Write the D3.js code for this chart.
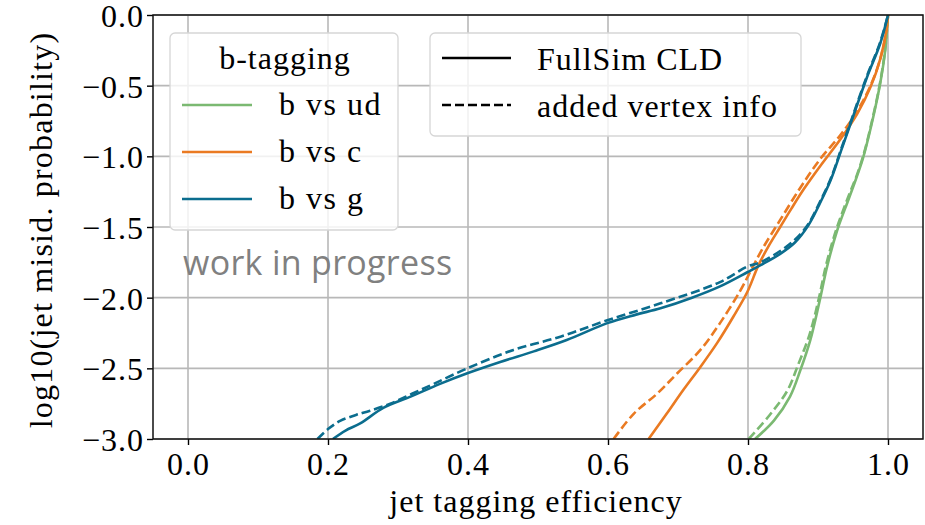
<!DOCTYPE html>
<html>
<head>
<meta charset="utf-8">
<script src="https://cdn.jsdelivr.net/npm/d3@7"></script>
<style>
  body { margin: 0; background: #fff; }
  text { font-family: "Liberation Serif", serif; }
</style>
</head>
<body>
<div id="chart"></div>
<script>
// ---- data ----
var xTicks = [0.0, 0.2, 0.4, 0.6, 0.8, 1.0];
var yTicks = [0.0, -0.5, -1.0, -1.5, -2.0, -2.5, -3.0];

// b vs ud
var udFull = [[0.810,-3.0],[0.837,-2.87],[0.860,-2.70],[0.875,-2.51],[0.889,-2.30],[0.902,-2.03],[0.913,-1.78],
  [0.927,-1.53],[0.944,-1.30],[0.955,-1.15],[0.965,-1.00],[0.979,-0.72],[0.989,-0.48],[0.996,-0.25],[1.0,0.0]];
var udVertex = [[0.801,-3.0],[0.831,-2.83],[0.856,-2.66],[0.872,-2.47],[0.888,-2.26],[0.901,-2.01],[0.912,-1.76],
  [0.926,-1.52],[0.943,-1.29],[0.955,-1.14],[0.965,-0.99],[0.979,-0.71],[0.989,-0.47],[0.996,-0.24],[1.0,0.0]];

// b vs c
var cFull = [[0.658,-3.0],[0.684,-2.82],[0.708,-2.65],[0.732,-2.49],[0.756,-2.32],[0.779,-2.135],[0.799,-1.96],
  [0.815,-1.77],[0.830,-1.63],[0.846,-1.50],[0.862,-1.37],[0.880,-1.23],[0.903,-1.07],[0.932,-0.88],[0.956,-0.70],
  [0.975,-0.51],[0.989,-0.31],[0.998,-0.10],[1.0,0.0]];
var cVertex = [[0.608,-3.0],[0.637,-2.82],[0.670,-2.68],[0.699,-2.535],[0.732,-2.37],[0.760,-2.18],[0.789,-1.95],
  [0.805,-1.80],[0.820,-1.66],[0.846,-1.45],[0.875,-1.22],[0.903,-1.02],[0.932,-0.85],[0.956,-0.68],[0.975,-0.50],
  [0.989,-0.31],[0.998,-0.10],[1.0,0.0]];

// b vs g
var gFull = [[0.207,-3.0],[0.225,-2.94],[0.246,-2.89],[0.279,-2.78],[0.318,-2.70],[0.360,-2.61],[0.399,-2.535],
  [0.446,-2.455],[0.494,-2.38],[0.541,-2.30],[0.599,-2.18],[0.640,-2.12],[0.675,-2.075],[0.720,-2.00],[0.760,-1.92],
  [0.799,-1.82],[0.818,-1.77],[0.846,-1.69],[0.867,-1.61],[0.886,-1.49],[0.902,-1.34],[0.918,-1.17],[0.933,-0.96],
  [0.950,-0.72],[0.970,-0.44],[0.989,-0.20],[1.0,0.0]];
var gVertex = [[0.185,-3.0],[0.200,-2.93],[0.218,-2.87],[0.240,-2.83],[0.260,-2.80],[0.289,-2.75],[0.320,-2.68],
  [0.351,-2.61],[0.399,-2.50],[0.465,-2.37],[0.532,-2.276],[0.599,-2.16],[0.675,-2.04],[0.760,-1.89],[0.799,-1.78],
  [0.818,-1.75],[0.846,-1.67],[0.867,-1.59],[0.886,-1.48],[0.902,-1.33],[0.918,-1.16],[0.933,-0.95],[0.950,-0.71],
  [0.970,-0.43],[0.989,-0.19],[1.0,0.0]];

var classNames = ["b vs ud", "b vs c", "b vs g"];
var classColors = ["#7bb972", "#ea7a22", "#0b6d8e"];
var styleNames = ["FullSim CLD", "added vertex info"];

var series = [
  { pts: udFull, color: 0, dashed: false }, { pts: udVertex, color: 0, dashed: true },
  { pts: cFull, color: 1, dashed: false }, { pts: cVertex, color: 1, dashed: true },
  { pts: gFull, color: 2, dashed: false }, { pts: gVertex, color: 2, dashed: true }
];

// ---- layout ----
var margin = { top: 15, bottom: 86, left: 153, right: 2 };
var width = 925 - margin.left - margin.right;
var height = 525 - margin.top - margin.bottom;

var svg = d3.select("#chart").append("svg")
  .attr("width", 925)
  .attr("height", 525);

var g = svg.append("g")
  .attr("transform", "translate(" + margin.left + "," + margin.top + ")");

var x = d3.scaleLinear().domain([-0.05, 1.05]).range([0, width]);
var y = d3.scaleLinear().domain([-3, 0]).range([height, 0]);

g.append("clipPath").attr("id", "clip")
  .append("rect").attr("width", width).attr("height", height);

// grid
g.selectAll(".vgrid").data(xTicks).enter().append("line")
  .attr("x1", function(d) { return x(d); }).attr("x2", function(d) { return x(d); })
  .attr("y1", 0).attr("y2", height)
  .attr("stroke", "#b8b8b8").attr("stroke-width", 1.6);
g.selectAll(".hgrid").data(yTicks).enter().append("line")
  .attr("y1", function(d) { return y(d); }).attr("y2", function(d) { return y(d); })
  .attr("x1", 0).attr("x2", width)
  .attr("stroke", "#b8b8b8").attr("stroke-width", 1.6);

// curves
var line = d3.line()
  .x(function(d) { return x(d[0]); })
  .y(function(d) { return y(d[1]); })
  .curve(d3.curveCatmullRom.alpha(0.5));

g.append("g").attr("clip-path", "url(#clip)")
  .selectAll("path").data(series).enter().append("path")
  .attr("d", function(d) { return line(d.pts); })
  .attr("fill", "none")
  .attr("stroke", function(d) { return classColors[d.color]; })
  .attr("stroke-width", 2.6)
  .attr("stroke-dasharray", function(d) { return d.dashed ? "9,4" : null; });

// axes
var xAxis = g.append("g")
  .attr("transform", "translate(0," + height + ")")
  .call(d3.axisBottom(x).tickValues(xTicks).tickFormat(d3.format(".1f")).tickSize(6).tickSizeOuter(0));
var yAxis = g.append("g")
  .call(d3.axisLeft(y).tickValues(yTicks).tickFormat(function(d) { return d3.format(".1f")(d).replace("-", "\u2212"); })
    .tickSize(6).tickSizeOuter(0));
[xAxis, yAxis].forEach(function(a) {
  a.select(".domain").remove();
  a.selectAll("line").attr("stroke", "#000").attr("stroke-width", 1.4);
  a.selectAll("text").attr("font-family", "Liberation Serif").attr("font-size", "32px")
    .attr("fill", "#000").attr("letter-spacing", "1px");
});
xAxis.selectAll("text").attr("dy", "0.85em").attr("y", 9);
yAxis.selectAll("text").attr("x", -9).attr("dy", "0.36em");

// frame
g.append("rect")
  .attr("width", width).attr("height", height)
  .attr("fill", "none").attr("stroke", "#111").attr("stroke-width", 1.5);

// axis labels
svg.append("text")
  .attr("x", 536).attr("y", 512)
  .attr("text-anchor", "middle").attr("font-size", "32px").attr("letter-spacing", "1px")
  .text("jet tagging efficiency");
svg.append("text")
  .attr("transform", "translate(52,230) rotate(-90)")
  .attr("text-anchor", "middle").attr("font-size", "32px").attr("letter-spacing", "1.2px")
  .text("log10(jet misid. probability)");

// legend: classes
var leg1 = svg.append("g").attr("transform", "translate(170,33)");
leg1.append("rect")
  .attr("width", 228).attr("height", 197).attr("rx", 5)
  .attr("fill", "#fff").attr("fill-opacity", 0.8)
  .attr("stroke", "#d6d6d6").attr("stroke-width", 1.3);
leg1.append("text")
  .attr("x", 115).attr("y", 36).attr("text-anchor", "middle")
  .attr("font-size", "32px").attr("letter-spacing", "1px")
  .text("b-tagging");
var leg1Rows = leg1.selectAll(".row").data(classNames).enter().append("g")
  .attr("transform", function(d, i) { return "translate(0," + (72 + i * 47) + ")"; });
leg1Rows.append("line")
  .attr("x1", 12).attr("x2", 82)
  .attr("stroke", function(d, i) { return classColors[i]; })
  .attr("stroke-width", 2.6);
leg1Rows.append("text")
  .attr("x", 109).attr("y", 10)
  .attr("font-size", "32px").attr("letter-spacing", "1.5px")
  .text(function(d) { return d; });

// legend: line styles
var leg2 = svg.append("g").attr("transform", "translate(430,33)");
leg2.append("rect")
  .attr("width", 371).attr("height", 103).attr("rx", 5)
  .attr("fill", "#fff").attr("fill-opacity", 0.8)
  .attr("stroke", "#d6d6d6").attr("stroke-width", 1.3);
var leg2Rows = leg2.selectAll(".row").data(styleNames).enter().append("g")
  .attr("transform", function(d, i) { return "translate(0," + (25 + i * 47) + ")"; });
leg2Rows.append("line")
  .attr("x1", 12).attr("x2", 81)
  .attr("stroke", "#000").attr("stroke-width", 2.6)
  .attr("stroke-dasharray", function(d, i) { return i == 1 ? "9,4" : null; });
leg2Rows.append("text")
  .attr("x", 107).attr("y", 12)
  .attr("font-size", "32px").attr("letter-spacing", "1px")
  .text(function(d) { return d; });

// watermark
svg.append("text")
  .attr("x", 183).attr("y", 275)
  .attr("font-size", "34px")
  .attr("fill", "#808080")
  .style("font-family", "'Open Sans', sans-serif")
  .attr("letter-spacing", "0.3px")
  .text("work in progress");
</script>
</body>
</html>
